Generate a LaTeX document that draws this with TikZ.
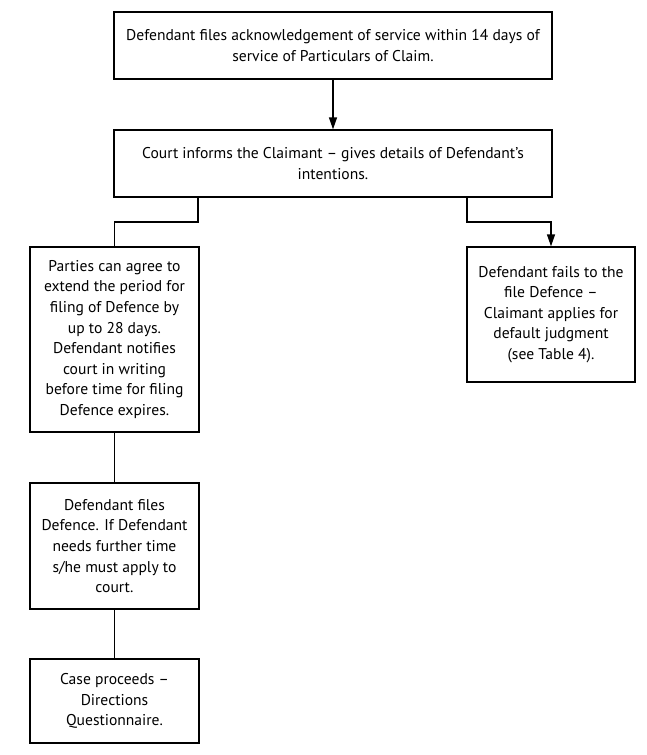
\documentclass[tikz,border=0pt]{standalone}
\usepackage{fontspec}
\setmainfont{PT Sans}
\usetikzlibrary{arrows.meta}
\begin{document}
\begin{tikzpicture}[x=1pt,y=-1pt,
  box/.style={draw, line width=1.3pt, rectangle, align=center, inner sep=0pt,
    font=\fontsize{15.6}{20.6}\selectfont},
  conn/.style={line width=1.3pt},
  arr/.style={conn, -{Triangle[width=8pt,length=12pt]}}]
\useasboundingbox (0,0) rectangle (646,755);
\node[box, minimum width=438pt, minimum height=67pt] (b1) at (333,45.5)
  {Defendant files acknowledgement of service within 14 days of\\service of Particulars of Claim.};
\node[box, minimum width=438pt, minimum height=67pt] (b2) at (333,163.5)
  {Court informs the Claimant -- gives details of Defendant’s\\intentions.};
\node[box, minimum width=169pt, minimum height=185pt] (b3) at (114.5,339.5)
  {Parties can agree to\\extend the period for\\filing of Defence by\\up to 28 days.\\Defendant notifies\\court in writing\\before time for filing\\Defence expires.};
\node[box, minimum width=168pt, minimum height=135pt] (b6) at (551,314.5)
  {Defendant fails to the\\file Defence --\\Claimant applies for\\default judgment\\(see Table 4).};
\node[box, minimum width=169pt, minimum height=126pt] (b4) at (114.5,546)
  {Defendant files\\Defence. If Defendant\\needs further time\\s/he must apply to\\court.};
\node[box, minimum width=169pt, minimum height=84pt] (b5) at (114.5,701)
  {Case proceeds --\\Directions\\Questionnaire.};
\coordinate (jl) at (198,222);
\coordinate (jr) at (467,222);
\draw[arr] (b1) -- (b2);
\draw[conn] (b2.south -| jl) -- (jl) -| (b3.north);
\draw[arr] (b2.south -| jr) -- (jr) -| (b6.north);
\draw[conn] (b3) -- (b4);
\draw[conn] (b4) -- (b5);
\end{tikzpicture}
\end{document}
